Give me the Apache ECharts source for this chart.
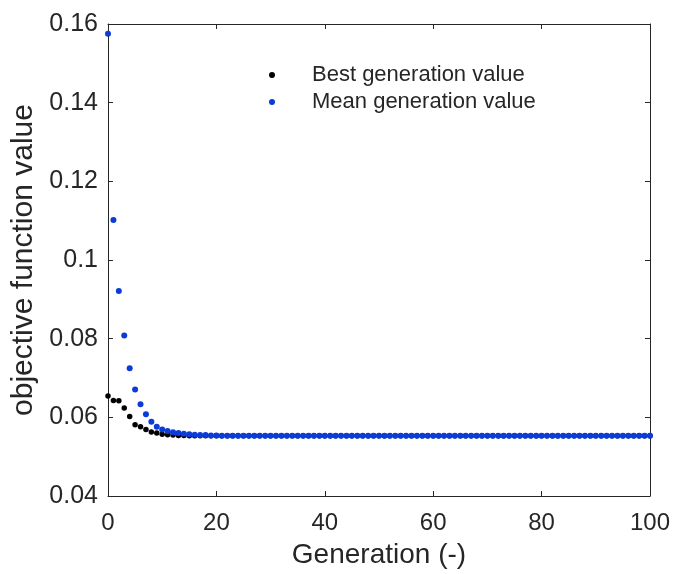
<!DOCTYPE html>
<html>
<head>
<meta charset="utf-8">
<script src="https://cdn.jsdelivr.net/npm/echarts@6/dist/echarts.min.js"></script>
<style>html,body{margin:0;padding:0;background:#fff}#c{width:673px;height:574px}</style>
</head>
<body>
<div id="c"></div>
<script>
const xTicks = [0, 20, 40, 60, 80, 100];
const yTicks = [0.04, 0.06, 0.08, 0.1, 0.12, 0.14, 0.16];
const seriesNames = ['Best generation value', 'Mean generation value'];
const bestValues = [
  0.0654, 0.0643, 0.0642, 0.0624, 0.0602, 0.0581, 0.0576, 0.0569, 0.0563, 0.0560,
  0.0557, 0.0556, 0.0555, 0.0554, 0.0554, 0.0553, 0.0553, 0.0553, 0.0553, 0.0553,
  0.0553, 0.0553, 0.0553, 0.0553, 0.0553, 0.0553, 0.0553, 0.0553, 0.0553, 0.0553,
  0.0553, 0.0553, 0.0553, 0.0553, 0.0553, 0.0553, 0.0553, 0.0553, 0.0553, 0.0553,
  0.0553, 0.0553, 0.0553, 0.0553, 0.0553, 0.0553, 0.0553, 0.0553, 0.0553, 0.0553,
  0.0553, 0.0553, 0.0553, 0.0553, 0.0553, 0.0553, 0.0553, 0.0553, 0.0553, 0.0553,
  0.0553, 0.0553, 0.0553, 0.0553, 0.0553, 0.0553, 0.0553, 0.0553, 0.0553, 0.0553,
  0.0553, 0.0553, 0.0553, 0.0553, 0.0553, 0.0553, 0.0553, 0.0553, 0.0553, 0.0553,
  0.0553, 0.0553, 0.0553, 0.0553, 0.0553, 0.0553, 0.0553, 0.0553, 0.0553, 0.0553,
  0.0553, 0.0553, 0.0553, 0.0553, 0.0553, 0.0553, 0.0553, 0.0553, 0.0553, 0.0553,
  0.0553
];
const meanValues = [
  0.1575, 0.1102, 0.0921, 0.0808, 0.0725, 0.0671, 0.0633, 0.0608, 0.0589, 0.0576,
  0.0569, 0.0565, 0.0562, 0.0560, 0.0558, 0.0557, 0.0556, 0.0555, 0.0555, 0.0554,
  0.0554, 0.0553, 0.0553, 0.0553, 0.0553, 0.0553, 0.0553, 0.0553, 0.0553, 0.0553,
  0.0553, 0.0553, 0.0553, 0.0553, 0.0553, 0.0553, 0.0553, 0.0553, 0.0553, 0.0553,
  0.0553, 0.0553, 0.0553, 0.0553, 0.0553, 0.0553, 0.0553, 0.0553, 0.0553, 0.0553,
  0.0553, 0.0553, 0.0553, 0.0553, 0.0553, 0.0553, 0.0553, 0.0553, 0.0553, 0.0553,
  0.0553, 0.0553, 0.0553, 0.0553, 0.0553, 0.0553, 0.0553, 0.0553, 0.0553, 0.0553,
  0.0553, 0.0553, 0.0553, 0.0553, 0.0553, 0.0553, 0.0553, 0.0553, 0.0553, 0.0553,
  0.0553, 0.0553, 0.0553, 0.0553, 0.0553, 0.0553, 0.0553, 0.0553, 0.0553, 0.0553,
  0.0553, 0.0553, 0.0553, 0.0553, 0.0553, 0.0553, 0.0553, 0.0553, 0.0553, 0.0553,
  0.0553
];

const FONT = 'Liberation Sans';
const TXT = '#262626';
const toPairs = arr => arr.map((v, i) => [i, v]);

const chart = echarts.init(document.getElementById('c'), null, {renderer: 'canvas'});
const axLine = {show: true, onZero: false, lineStyle: {color: TXT, width: 1}};
const axTick = {show: true, inside: true, length: 5, lineStyle: {color: TXT, width: 1}};
chart.setOption({
  animation: false,
  backgroundColor: '#fff',
  grid: {left: 108, right: 23, top: 24, bottom: 74},
  legend: {
    orient: 'vertical', left: 264, top: 59,
    itemWidth: 70, itemHeight: 6, itemGap: 5,
    icon: 'circle',
    textStyle: {fontFamily: FONT, fontSize: 22, color: TXT},
    data: seriesNames
  },
  xAxis: [{
    type: 'value', position: 'bottom',
    min: xTicks[0], max: xTicks[xTicks.length - 1], interval: 20,
    axisLine: axLine, axisTick: axTick, splitLine: {show: false},
    axisLabel: {fontFamily: FONT, fontSize: 24, color: TXT, margin: 15},
    name: 'Generation (-)', nameLocation: 'middle', nameGap: 45,
    nameTextStyle: {fontFamily: FONT, fontSize: 28, color: TXT}
  }, {
    type: 'value', position: 'top',
    min: xTicks[0], max: xTicks[xTicks.length - 1], interval: 20,
    axisLine: axLine, axisTick: axTick, splitLine: {show: false},
    axisLabel: {show: false}
  }],
  yAxis: [{
    type: 'value', position: 'left',
    min: yTicks[0], max: yTicks[yTicks.length - 1], interval: 0.02,
    axisLine: axLine, axisTick: axTick, splitLine: {show: false},
    axisLabel: {fontFamily: FONT, fontSize: 25, color: TXT, margin: 10},
    name: 'objective function value', nameLocation: 'middle', nameGap: 62,
    nameTextStyle: {fontFamily: FONT, fontSize: 30, color: TXT}
  }, {
    type: 'value', position: 'right',
    min: yTicks[0], max: yTicks[yTicks.length - 1], interval: 0.02,
    axisLine: axLine, axisTick: axTick, splitLine: {show: false},
    axisLabel: {show: false}
  }],
  series: [{
    name: seriesNames[0], type: 'scatter', xAxisIndex: 0, yAxisIndex: 0,
    symbol: 'circle', symbolSize: 5.5,
    itemStyle: {color: '#000000', opacity: 1},
    data: toPairs(bestValues)
  }, {
    name: seriesNames[1], type: 'scatter', xAxisIndex: 0, yAxisIndex: 0,
    symbol: 'circle', symbolSize: 6,
    itemStyle: {color: '#0b3bd9', opacity: 1},
    data: toPairs(meanValues)
  }]
});
</script>
</body>
</html>
